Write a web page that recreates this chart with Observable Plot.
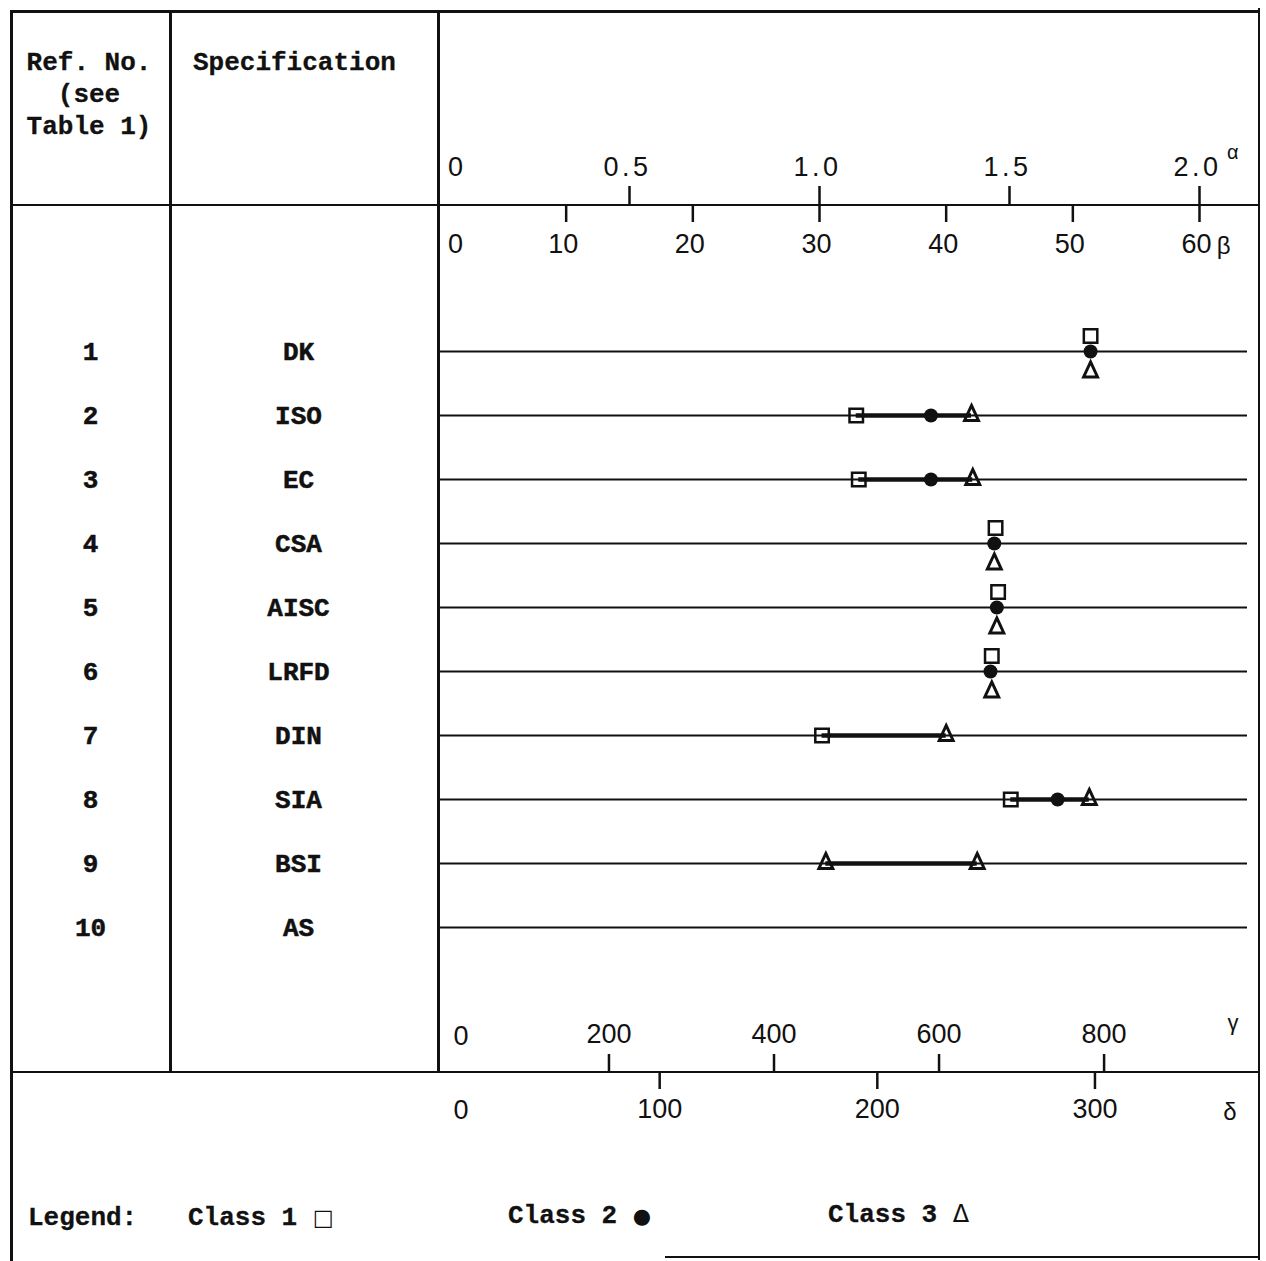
<!DOCTYPE html>
<html>
<head>
<meta charset="utf-8">
<script src="https://cdn.jsdelivr.net/npm/d3@7"></script>
<script src="https://cdn.jsdelivr.net/npm/@observablehq/plot@0.6"></script>
<style>
  html, body { margin: 0; padding: 0; background: #fff; }
  #fig { position: relative; width: 1266px; height: 1261px; overflow: hidden; background: #fff; }
  #fig svg { position: absolute; left: 0; top: 0; }
  .ln { position: absolute; background: #111; }
  .tw { position: absolute; font-family: "Liberation Mono", "DejaVu Sans Mono", monospace; font-weight: bold;
        font-size: 26px; line-height: 32px; color: #111; white-space: pre; -webkit-text-stroke: 0.3px #111; }
  .sym { font-family: "DejaVu Sans", sans-serif; font-weight: normal; -webkit-text-stroke: 0; }
</style>
</head>
<body>
<div id="fig"></div>
<script>
// ---------------- data ----------------
const refNos = ["1", "2", "3", "4", "5", "6", "7", "8", "9", "10"];
const specs = ["DK", "ISO", "EC", "CSA", "AISC", "LRFD", "DIN", "SIA", "BSI", "AS"];
// positions read on the beta scale (0 - 60)
const class1Beta = [51.4, 32.9, 33.1, 43.9, 44.1, 43.6, 30.2, 45.1, null, null];
const class2Beta = [51.4, 38.8, 38.8, 43.8, 44.0, 43.5, null, 48.8, null, null];
const class3Beta = [51.4, 42.0, 42.1, 43.8, 44.0, 43.6, 40.0, 51.3, 42.45, null];
const class3BetaSecond = [null, null, null, null, null, null, null, null, 30.5, null];

const alphaTicks = [0, 0.5, 1.0, 1.5, 2.0];
const betaTicks = [0, 10, 20, 30, 40, 50, 60];
const gammaTicks = [0, 200, 400, 600, 800];
const deltaTicks = [0, 100, 200, 300];

// ---------------- layout ----------------
const W = 1266, H = 1261;
const frame = {left: 439, right: 1258, top: 205, bottom: 1072};
const pxPerBeta = (1199 - frame.left) / 60;
const xMax = (frame.right - frame.left) / pxPerBeta;
const frameH = frame.bottom - frame.top;
const alphaToBeta = a => a * 30;
const gammaToBeta = g => 0.35 + g / 15.35;
const deltaToBeta = d => 0.2 + d / 5.82;

const rows = refNos.map((ref, i) => ({
  ref, spec: specs[i], c1: class1Beta[i], c2: class2Beta[i], c3: class3Beta[i], c3b: class3BetaSecond[i]
}));
rows.forEach(r => {
  const v = [r.c1, r.c2, r.c3, r.c3b].filter(v => v != null);
  r.lo = v.length ? d3.min(v) : null;
  r.hi = v.length ? d3.max(v) : null;
  r.stacked = v.length === 3 && (r.hi - r.lo) < 1;
});
const ranges = rows.filter(r => r.lo != null && r.hi - r.lo >= 1);
const sqFlat = rows.filter(r => r.c1 != null && !r.stacked);
const sqStack = rows.filter(r => r.c1 != null && r.stacked);
const dots = rows.filter(r => r.c2 != null);
const triFlat = rows.flatMap(r => r.stacked ? [] : [r.c3, r.c3b].filter(v => v != null).map(v => ({ref: r.ref, v})));
const triStack = rows.filter(r => r.c3 != null && r.stacked);

const tri = {
  draw(ctx, size) {
    const s = Math.sqrt(size / Math.PI);
    ctx.moveTo(0, -1.1 * s);
    ctx.lineTo(0.95 * s, 0.95 * s);
    ctx.lineTo(-0.95 * s, 0.95 * s);
    ctx.closePath();
  }
};

const ink = "#111";
const axisFont = {fontFamily: "Liberation Sans, Arial, sans-serif", fontSize: 27, fill: ink, lineAnchor: "middle"};
const rowFont = {fontFamily: "Liberation Mono, monospace", fontWeight: "bold", fontSize: 26, fill: ink, stroke: ink, strokeWidth: 0.5, lineAnchor: "middle"};

const plot = Plot.plot({
  width: W, height: H,
  marginLeft: frame.left, marginRight: W - frame.right, marginTop: frame.top, marginBottom: H - frame.bottom,
  style: {background: "transparent"},
  x: {domain: [0, xMax], axis: null},
  y: {type: "point", domain: refNos, padding: 2.24, axis: null},
  marks: [
    // row lines
    Plot.ruleY(refNos, {y: d => d, stroke: ink, strokeWidth: 2, insetRight: 11}),
    // range bars
    Plot.ruleY(ranges, {y: "ref", x1: "lo", x2: "hi", stroke: ink, strokeWidth: 4.5}),
    // class 1
    Plot.dot(sqFlat, {x: "c1", y: "ref", symbol: "square", r: 7.6, stroke: ink, strokeWidth: 2.5, fill: "none"}),
    Plot.dot(sqStack, {x: "c1", y: "ref", symbol: "square", r: 7.6, stroke: ink, strokeWidth: 2.5, fill: "none", dy: -15.5}),
    // class 2
    Plot.dot(dots, {x: "c2", y: "ref", r: 7, fill: ink, stroke: null}),
    // class 3
    Plot.dot(triFlat, {x: "v", y: "ref", symbol: tri, r: 7.3, stroke: ink, strokeWidth: 3, fill: "none", strokeLinejoin: "miter", dy: -2}),
    Plot.dot(triStack, {x: "c3", y: "ref", symbol: tri, r: 7.3, stroke: ink, strokeWidth: 3, fill: "none", strokeLinejoin: "miter", dy: 18.5}),

    // alpha axis (top, ticks upward)
    Plot.ruleX(alphaTicks.filter(d => d > 0), {x: alphaToBeta, insetTop: -19, insetBottom: frameH, stroke: ink, strokeWidth: 2.5}),
    Plot.text(alphaTicks.filter(d => d > 0), {x: alphaToBeta, text: d => d.toFixed(1), frameAnchor: "top", dy: -38, dx: -2, ...axisFont}),
    Plot.text(alphaTicks.filter(d => d === 0), {x: alphaToBeta, text: d => String(d), frameAnchor: "top", dy: -38, dx: 16, ...axisFont}),
    Plot.text(["α"], {text: d => d, frameAnchor: "top-right", dx: -20, dy: -53, ...axisFont, fontSize: 20}),

    // beta axis (top, ticks downward)
    Plot.ruleX(betaTicks.filter(d => d > 0), {x: d => d, insetTop: 0, insetBottom: frameH - 17, stroke: ink, strokeWidth: 2.5}),
    Plot.text(betaTicks.filter(d => d > 0), {x: d => d, text: d => String(d), frameAnchor: "top", dy: 39, dx: -3, ...axisFont}),
    Plot.text(betaTicks.filter(d => d === 0), {x: d => d, text: d => String(d), frameAnchor: "top", dy: 39, dx: 16, ...axisFont}),
    Plot.text(["β"], {text: d => d, frameAnchor: "top-right", dx: -28, dy: 41, ...axisFont, fontSize: 24}),

    // gamma axis (bottom, ticks upward)
    Plot.ruleX(gammaTicks.filter(d => d > 0), {x: gammaToBeta, insetTop: frameH - 18, insetBottom: 0, stroke: ink, strokeWidth: 2.5}),
    Plot.text(gammaTicks.filter(d => d > 0), {x: gammaToBeta, text: d => String(d), frameAnchor: "bottom", dy: -38, dx: 0, ...axisFont}),
    Plot.text(gammaTicks.filter(d => d === 0), {x: gammaToBeta, text: d => String(d), frameAnchor: "bottom", dy: -36, dx: 17, ...axisFont}),
    Plot.text(["γ"], {text: d => d, frameAnchor: "bottom-right", dx: -20, dy: -50, ...axisFont, fontSize: 22}),

    // delta axis (bottom, ticks downward)
    Plot.ruleX(deltaTicks.filter(d => d > 0), {x: deltaToBeta, insetTop: frameH, insetBottom: -17, stroke: ink, strokeWidth: 2.5}),
    Plot.text(deltaTicks.filter(d => d > 0), {x: deltaToBeta, text: d => String(d), frameAnchor: "bottom", dy: 37, dx: 0, ...axisFont}),
    Plot.text(deltaTicks.filter(d => d === 0), {x: deltaToBeta, text: d => String(d), frameAnchor: "bottom", dy: 38, dx: 19, ...axisFont}),
    Plot.text(["δ"], {text: d => d, frameAnchor: "bottom-right", dx: -22, dy: 40, ...axisFont, fontSize: 24}),

    // row labels in left columns
    Plot.text(refNos, {y: d => d, text: d => d, frameAnchor: "left", dx: -349, dy: 0, textAnchor: "middle", ...rowFont}),
    Plot.text(rows, {y: "ref", text: "spec", frameAnchor: "left", dx: -141, dy: 0, textAnchor: "middle", ...rowFont})
  ]
});

// typewriter-style spacing on the alpha tick labels (e.g. "1.0")
d3.select(plot).selectAll("text")
  .filter(function () { return /^\d\.\d$/.test(this.textContent); })
  .attr("letter-spacing", "3.5px");

const fig = document.getElementById("fig");
fig.appendChild(plot);

// table rules
function line(x, y, w, h) {
  const d = document.createElement("div");
  d.className = "ln";
  Object.assign(d.style, {left: x + "px", top: y + "px", width: w + "px", height: h + "px"});
  fig.appendChild(d);
}
const lw = 2.5;
line(10, 10, lw, H - 10);                        // left border
line(1257.5, 8, lw, 1252);                       // right border
line(10, 10, 1250, lw);                          // top border
line(169, 10, lw, frame.bottom - 10);            // column 1 / 2
line(frame.left - 2, 10, lw, frame.bottom - 10); // column 2 / 3
line(10, frame.top - 1.5, 1250, lw);             // header rule (alpha/beta axis)
line(10, frame.bottom - 1.5, 1250, lw);          // footer rule (gamma/delta axis)
line(665, 1256, 595, 2);                         // bottom border (partial)

// header and legend text
function txt(s, x, baseline, opts = {}) {
  const d = document.createElement("div");
  d.className = "tw";
  d.innerHTML = s;
  Object.assign(d.style, {left: x + "px", top: (baseline - 23) + "px"}, opts);
  fig.appendChild(d);
}
txt("Ref. No.\n(see\nTable 1)", 10, 70, {width: "158px", textAlign: "center"});
txt("Specification", 193, 70);
txt("Legend:", 28, 1225);
txt("Class 1 <span class='sym' style='font-size:22px'>□</span>", 188, 1225);
txt("Class 2 <span class='sym' style='font-size:21px'>●</span>", 508, 1223);
txt("Class 3 <span class='sym' style='font-size:24px'>Δ</span>", 828, 1221);
</script>
</body>
</html>
